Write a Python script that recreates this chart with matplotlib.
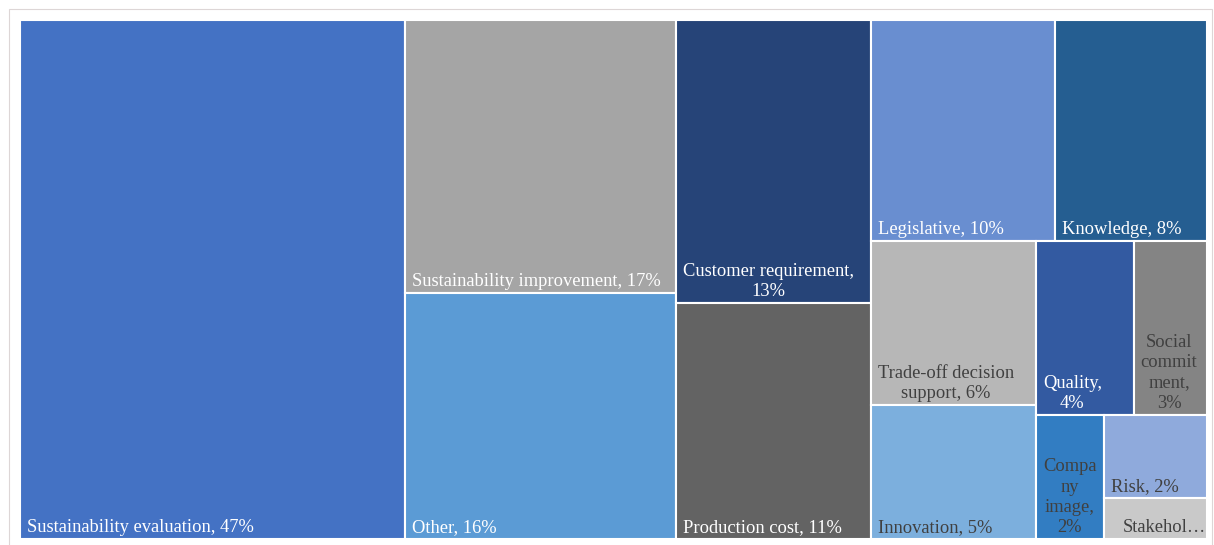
"""Treemap of reported motivations, rebuilt in matplotlib."""

import matplotlib

matplotlib.use("Agg")
import matplotlib.pyplot as plt
from matplotlib.patches import Rectangle

plt.rcParams["font.family"] = ["Liberation Serif", "DejaVu Serif"]

LABELS = [
    "Sustainability evaluation, 47%",
    "Sustainability improvement, 17%",
    "Other, 16%",
    "Customer requirement,\n13%",
    "Production cost, 11%",
    "Legislative, 10%",
    "Knowledge, 8%",
    "Trade-off decision\nsupport, 6%",
    "Innovation, 5%",
    "Quality,\n4%",
    "Social\ncommit\nment,\n3%",
    "Compa\nny\nimage,\n2%",
    "Risk, 2%",
    "Stakehol\u2026",
]
# area weights
VALUES = [47.0, 17.4, 15.7, 13.0, 10.8, 9.6, 7.9, 6.4, 5.2, 4.0, 3.0, 2.0, 2.0, 1.0]
COLORS = [
    "#4472C4", "#A5A5A5", "#5B9BD5", "#264478", "#636363", "#698ED0", "#255E91",
    "#B7B7B7", "#7CAFDD", "#335AA1", "#848484", "#327DC2", "#8FAADC", "#C9C9C9",
]
DARK_TEXT = {"Trade-off", "Innovation", "Social", "Compa", "Risk", "Stakehol"}

# strip layout as Excel placed it: (items in strip, orientation)
STRIPS = [(1, "col"), (2, "col"), (2, "col"), (2, "row"),
          (2, "col"), (2, "row"), (1, "col"), (2, "col")]

W, H = 1187.0, 519.0


def layout(values, strips, width, height):
    rects = []
    x, y, w, h = 0.0, 0.0, width, height
    remaining = float(sum(values))
    i = 0
    for n, orient in strips:
        group = values[i:i + n]
        share = sum(group) / remaining
        if orient == "col":
            sw = w * share
            yy = y
            for v in group:
                vh = h * v / sum(group)
                rects.append((x, yy, sw, vh))
                yy += vh
            x += sw
            w -= sw
        else:
            sh = h * share
            xx = x
            for v in group:
                vw = w * v / sum(group)
                rects.append((xx, y, vw, sh))
                xx += vw
            y += sh
            h -= sh
        remaining -= sum(group)
        i += n
    return rects


def main():
    fig = plt.figure(figsize=(12.14, 5.45), dpi=100)
    fig.patches.append(Rectangle((9 / 1214, -0.01), 1203 / 1214, 1 - 9 / 545 + 0.01,
                                 transform=fig.transFigure, fill=False,
                                 edgecolor="#DDD6D6", lw=0.8))
    ax = fig.add_axes([20 / 1214, 6 / 545, W / 1214, H / 545])
    ax.set_xlim(0, W)
    ax.set_ylim(H, 0)
    ax.axis("off")

    for (x, y, w, h), label, color in zip(layout(VALUES, STRIPS, W, H), LABELS, COLORS):
        ax.add_patch(Rectangle((x, y), w, h, facecolor=color,
                               edgecolor="white", lw=1.5))
        dark = any(label.startswith(k) for k in DARK_TEXT)
        tcolor = "#404040" if dark else "#FFFFFF"
        if label.endswith("\u2026"):
            tx, ha = x + w - 1, "right"
        else:
            tx, ha = x + 7, "left"
        ax.text(tx, y + h - 3, label, ha=ha, va="bottom", multialignment="center",
                color=tcolor, fontsize=13.3, linespacing=1.25)

    fig.savefig("out.png", dpi=100)
    plt.close(fig)


if __name__ == "__main__":
    main()
